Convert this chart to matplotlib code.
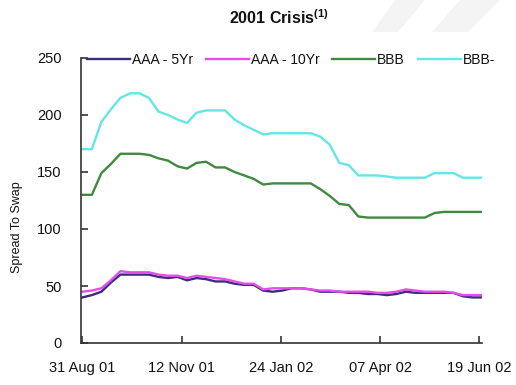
import matplotlib
matplotlib.use("Agg")
import matplotlib.pyplot as plt
import matplotlib.dates as mdates
from matplotlib.patches import Polygon
import pandas as pd

plt.rcParams['font.family'] = ['Liberation Sans', 'DejaVu Sans']
plt.rcParams['mathtext.fontset'] = 'custom'
plt.rcParams['mathtext.rm'] = 'Liberation Sans:bold'
plt.rcParams['mathtext.bf'] = 'Liberation Sans:bold'

# weekly observations, 31 Aug 2001 onwards
dates = pd.date_range("2001-08-31", periods=43, freq="7D")

aaa_5yr = [40, 42, 45, 53, 60, 60, 60, 60, 58, 57, 58, 55, 57, 56, 54, 54, 52, 51, 51, 46, 45, 46,
           48, 48, 47, 45, 45, 45, 44, 44, 43, 43, 42, 43, 45, 44, 44, 44, 44, 44, 41, 40, 40]
aaa_10yr = [45, 46, 48, 55, 63, 62, 62, 62, 60, 59, 59, 57, 59, 58, 57, 56, 54, 52, 52, 47, 48, 48,
            48, 48, 47, 46, 46, 45, 45, 45, 45, 44, 44, 45, 47, 46, 45, 45, 45, 44, 42, 42, 42]
bbb = [130, 130, 149, 157, 166, 166, 166, 165, 162, 160, 155, 153, 158, 159, 154, 154, 150, 147, 144, 139, 140, 140,
       140, 140, 140, 135, 129, 122, 121, 111, 110, 110, 110, 110, 110, 110, 110, 114, 115, 115, 115, 115, 115]
bbb_minus = [170, 170, 194, 205, 215, 219, 219, 215, 203, 200, 196, 193, 202, 204, 204, 204, 196, 191, 187, 183, 184, 184,
             184, 184, 184, 181, 174, 158, 156, 147, 147, 147, 146, 145, 145, 145, 145, 149, 149, 149, 145, 145, 145]

series_names = ["AAA - 5Yr", "AAA - 10Yr", "BBB", "BBB-"]
series_colors = ["#3b2c7e", "#e24ee6", "#3f8a3f", "#62e6e6"]
tick_dates = ["2001-08-31", "2001-11-12", "2002-01-24", "2002-04-07", "2002-06-19"]
y_ticks = [0, 50, 100, 150, 200, 250]

W, H = 516, 385
fig = plt.figure(figsize=(W / 100, H / 100), dpi=100)

# faint background shapes top right
for pts in ([(395, 0), (425, 0), (398, 32), (372, 32)],
            [(460, 0), (500, 0), (468, 32), (432, 32)]):
    fig.patches.append(Polygon([(x / W, 1 - y / H) for x, y in pts], closed=True,
                               transform=fig.transFigure, facecolor="#f4f4f4", edgecolor="none", zorder=0))

ax = fig.add_axes([81 / W, 1 - 343 / H, 401 / W, 285 / H])
ax.patch.set_alpha(0)

for vals, name, col in zip([aaa_5yr, aaa_10yr, bbb, bbb_minus], series_names, series_colors):
    ax.plot(dates, vals, color=col, linewidth=1.7, label=name)

ax.set_xlim(dates[0] - pd.Timedelta(days=1), dates[-1])
ax.set_ylim(0, 250)
ax.set_yticks(y_ticks)
ax.set_xticks(pd.to_datetime(tick_dates))
ax.xaxis.set_major_formatter(mdates.DateFormatter("%d %b %y"))

for side in ("top", "right"):
    ax.spines[side].set_visible(False)
for side in ("left", "bottom"):
    ax.spines[side].set_linewidth(1.2)
    ax.spines[side].set_color("#333333")

ax.tick_params(axis="x", direction="in", length=5, width=1.2, pad=13, labelsize=10.5, colors="#333333",
               labelcolor="#111111")
ax.tick_params(axis="y", direction="in", length=5, width=1.2, pad=14, labelsize=10.5, colors="#333333",
               labelcolor="#111111")

fig.text(17 / W, 1 - 227 / H, "Spread To Swap", rotation=90, ha="center", va="center",
         fontsize=9, color="#111111")
fig.text(279 / W, 1 - 18 / H, r"2001 Crisis$^{(1)}$", ha="center", va="center",
         fontsize=11.5, fontweight="bold", color="#111111")

ax.legend(loc="center left", bbox_to_anchor=(87 / W, 1 - 60 / H), bbox_transform=fig.transFigure,
          ncol=4, frameon=False, fontsize=10, handlelength=3.1, handletextpad=0.15,
          columnspacing=0.9, borderpad=0, borderaxespad=0, labelcolor="#111111")

fig.savefig("out.png", dpi=100)
